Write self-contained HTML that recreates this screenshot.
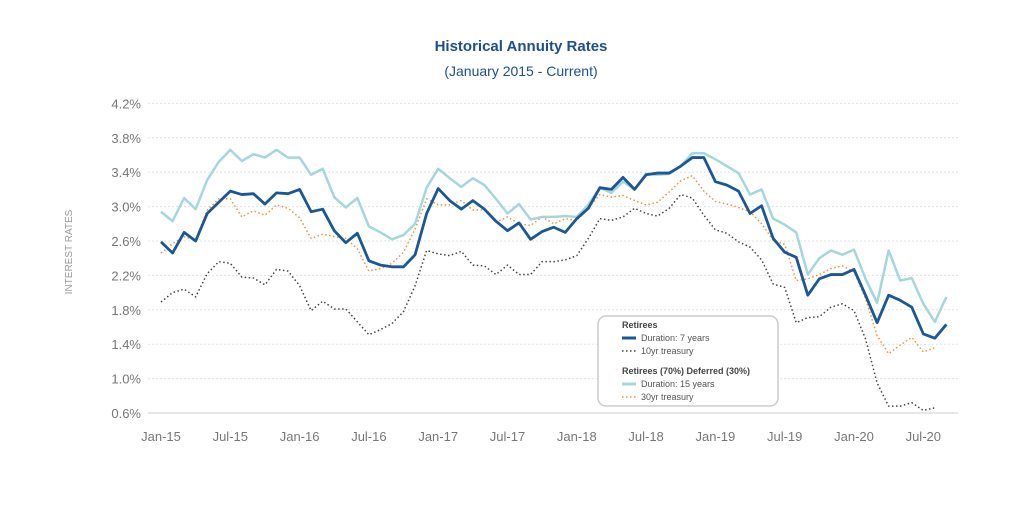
<!DOCTYPE html>
<html><head><meta charset="utf-8"><style>
body{margin:0;background:#fff;width:1024px;height:512px;overflow:hidden;font-family:"Liberation Sans",sans-serif}
</style></head><body>
<svg id="chart" width="1024" height="512" xmlns="http://www.w3.org/2000/svg">
<text x="521" y="51" text-anchor="middle" font-size="15" font-weight="bold" fill="#1d4f8f">Historical Annuity Rates</text>
<text x="521" y="76" text-anchor="middle" font-size="14" fill="#1d4f8f">(January 2015 - Current)</text>
<text transform="translate(72,252) rotate(-90)" text-anchor="middle" font-size="10" fill="#999">INTEREST RATES</text>
<g id="grid"></g><g id="series"></g>
<g>
<rect x="598" y="316" width="180" height="90" rx="8" fill="#fff" stroke="#ccc" stroke-width="1.5"/>
<text x="622" y="328" font-size="9" font-weight="bold" fill="#444">Retirees</text>
<line x1="622" y1="338" x2="636" y2="338" stroke="#1a5796" stroke-width="3"/>
<text x="641" y="341" font-size="9" fill="#555">Duration: 7 years</text>
<line x1="622" y1="351" x2="636" y2="351" stroke="#444" stroke-width="1.5" stroke-dasharray="1.5,2.5"/>
<text x="641" y="354" font-size="9" fill="#555">10yr treasury</text>
<text x="622" y="374" font-size="9" font-weight="bold" fill="#444">Retirees (70%) Deferred (30%)</text>
<line x1="622" y1="384" x2="636" y2="384" stroke="#a5d6de" stroke-width="3"/>
<text x="641" y="387" font-size="9" fill="#555">Duration: 15 years</text>
<line x1="622" y1="397" x2="636" y2="397" stroke="#f0913a" stroke-width="1.5" stroke-dasharray="1.5,2.5"/>
<text x="641" y="400" font-size="9" fill="#555">30yr treasury</text>
</g>
</svg>
<script>
const yTicks=[0.6,1.0,1.4,1.8,2.2,2.6,3.0,3.4,3.8,4.2];
const xLabels=["Jan-15","Jul-15","Jan-16","Jul-16","Jan-17","Jul-17","Jan-18","Jul-18","Jan-19","Jul-19","Jan-20","Jul-20"];
const dur7=[2.59,2.46,2.70,2.60,2.92,3.05,3.18,3.14,3.15,3.03,3.16,3.15,3.20,2.94,2.97,2.72,2.58,2.69,2.37,2.32,2.30,2.30,2.44,2.92,3.21,3.07,2.97,3.07,2.97,2.83,2.72,2.81,2.62,2.71,2.76,2.70,2.86,2.98,3.22,3.20,3.34,3.20,3.37,3.39,3.39,3.47,3.57,3.57,3.29,3.25,3.18,2.92,3.01,2.63,2.47,2.41,1.97,2.16,2.21,2.21,2.27,1.97,1.65,1.97,1.91,1.83,1.52,1.47,1.63];
const dur15=[2.94,2.83,3.10,2.97,3.31,3.52,3.66,3.53,3.61,3.57,3.66,3.57,3.57,3.37,3.44,3.11,2.99,3.10,2.77,2.70,2.62,2.67,2.80,3.22,3.44,3.33,3.23,3.33,3.25,3.09,2.92,3.03,2.85,2.88,2.88,2.89,2.88,3.02,3.22,3.16,3.29,3.20,3.38,3.37,3.38,3.47,3.62,3.62,3.55,3.47,3.39,3.14,3.20,2.86,2.79,2.70,2.21,2.40,2.49,2.44,2.50,2.16,1.88,2.49,2.14,2.17,1.87,1.66,1.95];
const t30=[2.46,2.57,2.65,2.61,2.96,3.09,3.09,2.88,2.95,2.90,3.02,2.98,2.87,2.63,2.68,2.65,2.63,2.51,2.25,2.28,2.34,2.47,2.74,3.09,3.02,3.02,3.07,2.96,2.96,2.82,2.88,2.80,2.78,2.88,2.80,2.86,2.84,2.98,3.14,3.11,3.13,3.07,3.02,3.05,3.17,3.30,3.36,3.18,3.06,3.03,2.99,2.94,2.80,2.61,2.56,2.14,2.16,2.21,2.28,2.31,2.24,1.93,1.50,1.29,1.39,1.48,1.31,1.36];
const t10=[1.89,2.00,2.04,1.95,2.22,2.36,2.34,2.18,2.17,2.09,2.27,2.25,2.08,1.79,1.90,1.81,1.81,1.66,1.51,1.57,1.64,1.78,2.08,2.49,2.45,2.43,2.48,2.32,2.31,2.21,2.32,2.21,2.21,2.36,2.36,2.38,2.43,2.63,2.86,2.84,2.88,2.98,2.92,2.89,2.98,3.14,3.10,2.90,2.73,2.69,2.59,2.53,2.38,2.10,2.06,1.65,1.71,1.72,1.83,1.87,1.79,1.46,0.95,0.68,0.68,0.72,0.63,0.66];
const NS="http://www.w3.org/2000/svg";
const x=i=>161+i*11.55;
const y=v=>413-(v-0.6)/0.4*34.4;
const grid=document.getElementById('grid'),ser=document.getElementById('series');
function mk(tag,attrs,parent){const e=document.createElementNS(NS,tag);for(const k in attrs)e.setAttribute(k,attrs[k]);parent.appendChild(e);return e;}
yTicks.forEach((t,i)=>{
  const l=mk('line',{x1:148,x2:958,y1:y(t),y2:y(t),stroke:i===0?'#ccc':'#e2e2e2','stroke-width':1,'stroke-dasharray':i===0?'':'2,2'},grid);
  
  
  const tx=mk('text',{x:141,y:y(t)+5,'text-anchor':'end','font-size':13,fill:'#777'},grid);
  tx.textContent=t.toFixed(1)+'%';
  
  
});
xLabels.forEach((s,i)=>{
  const tx=mk('text',{x:x(i*6),y:441,'text-anchor':'middle','font-size':13,fill:'#777'},grid);
  tx.textContent=s;
  
  
});
function line(data,color,w,dash,name){
  const p=mk('polyline',{points:data.map((v,i)=>x(i)+','+y(v)).join(' '),fill:'none',stroke:color,'stroke-width':w,'stroke-dasharray':dash,'stroke-linejoin':'round'},ser);
  
  
}
line(t10,'#444',1.5,'1.5,2.5','series-10yr-treasury');
line(t30,'#f0913a',1.5,'1.5,2.5','series-30yr-treasury');
line(dur15,'#a5d6de',2.5,'','series-duration-15');
line(dur7,'#1a5796',2.8,'','series-duration-7');
</script>
</body></html>
